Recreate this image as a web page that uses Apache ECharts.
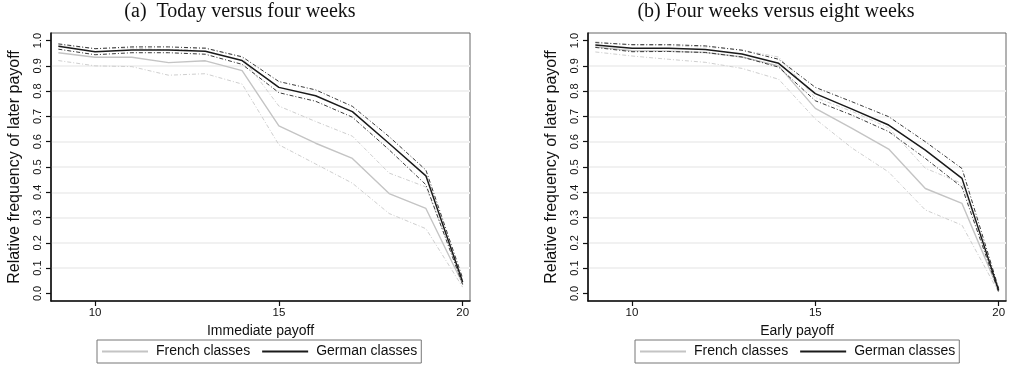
<!DOCTYPE html>
<html>
<head>
<meta charset="utf-8">
<script src="https://cdn.jsdelivr.net/npm/echarts@6/dist/echarts.min.js"></script>
<style>
html,body{margin:0;padding:0;background:#fff;}
#chart{width:1010px;height:367px;}
</style>
</head>
<body>
<div id="chart"></div>
<script>
// ---- data ----
const payoffs = [9, 10, 11, 12, 13, 14, 15, 16, 17, 18, 19, 20];
const xTicks = [10, 15, 20];
const yTicks = [0.0, 0.1, 0.2, 0.3, 0.4, 0.5, 0.6, 0.7, 0.8, 0.9, 1.0];

// (a) Today versus four weeks
const frenchA    = [0.952, 0.934, 0.934, 0.913, 0.920, 0.881, 0.663, 0.594, 0.534, 0.395, 0.336, 0.038];
const frenchA_lo = [0.921, 0.900, 0.897, 0.863, 0.869, 0.828, 0.588, 0.512, 0.436, 0.316, 0.256, 0.025];
const frenchA_hi = [0.983, 0.968, 0.971, 0.962, 0.970, 0.934, 0.741, 0.680, 0.622, 0.476, 0.421, 0.052];
const germanA    = [0.978, 0.956, 0.963, 0.963, 0.958, 0.921, 0.815, 0.782, 0.719, 0.593, 0.465, 0.045];
const germanA_hi = [0.987, 0.968, 0.975, 0.975, 0.970, 0.936, 0.838, 0.805, 0.740, 0.620, 0.488, 0.060];
const germanA_lo = [0.966, 0.944, 0.952, 0.952, 0.946, 0.906, 0.794, 0.760, 0.697, 0.568, 0.430, 0.035];

// (b) Four weeks versus eight weeks
const frenchB    = [0.975, 0.960, 0.958, 0.953, 0.935, 0.900, 0.732, 0.653, 0.571, 0.415, 0.356, 0.012];
const frenchB_lo = [0.955, 0.939, 0.926, 0.914, 0.890, 0.847, 0.690, 0.575, 0.480, 0.330, 0.270, 0.004];
const frenchB_hi = [0.995, 0.982, 0.980, 0.975, 0.962, 0.935, 0.775, 0.720, 0.655, 0.495, 0.435, 0.020];
const germanB    = [0.983, 0.970, 0.970, 0.965, 0.947, 0.910, 0.790, 0.729, 0.666, 0.567, 0.455, 0.012];
const germanB_hi = [0.992, 0.984, 0.984, 0.979, 0.962, 0.926, 0.815, 0.758, 0.699, 0.600, 0.494, 0.020];
const germanB_lo = [0.973, 0.956, 0.957, 0.953, 0.935, 0.895, 0.762, 0.705, 0.640, 0.534, 0.420, 0.005];

// ---- chart ----
const pts = v => payoffs.map((x, i) => [x, v[i]]);
const SANS = 'Liberation Sans, Arial, sans-serif';

function xAxisFor(idx, name) {
  return {
    type: 'value', gridIndex: idx, min: 8.8, max: 20.2,
    name: name, nameLocation: 'middle', nameGap: 19,
    nameTextStyle: { fontFamily: SANS, fontSize: 14, color: '#111' },
    axisLine: { show: true, onZero: false, lineStyle: { color: '#111', width: 1.6 } },
    axisTick: { show: true, inside: false, length: 5, customValues: xTicks, lineStyle: { color: '#111', width: 1.2 } },
    axisLabel: { customValues: xTicks, margin: 6, fontFamily: SANS, fontSize: 11.5, color: '#111' },
    splitLine: { show: false }
  };
}
function yAxisFor(idx) {
  return {
    type: 'value', gridIndex: idx, min: -0.03, max: 1.03, splitNumber: 10,
    name: 'Relative frequency of later payoff', nameLocation: 'middle', nameGap: 28,
    nameTextStyle: { fontFamily: SANS, fontSize: 16, color: '#111' },
    axisLine: { show: true, onZero: false, lineStyle: { color: '#111', width: 1.6 } },
    axisTick: { show: true, inside: false, length: 5, customValues: yTicks, lineStyle: { color: '#111', width: 1.2 } },
    axisLabel: { customValues: yTicks, rotate: 90, margin: 8, fontFamily: SANS, fontSize: 11, color: '#111',
                 formatter: v => Number(v).toFixed(1) },
    splitLine: { show: true, showMinLine: false, showMaxLine: false, lineStyle: { color: '#f1f1f1', width: 2 } }
  };
}
function lineSeries(name, data, idx, color, width, type, z) {
  return {
    name: name, type: 'line', xAxisIndex: idx, yAxisIndex: idx,
    data: pts(data), symbol: 'none', showSymbol: false, smooth: false,
    lineStyle: { color: color, width: width, type: type }, itemStyle: { color: color },
    emphasis: { disabled: true }, animation: false, z: z
  };
}
const dashdot = [4, 2, 1, 2];
const FR = '#c4c4c4', FRCI = '#cfcfcf', DE = '#1a1a1a', DECI = '#3a3a3a';

function panelSeries(idx, fr, frLo, frHi, de, deHi, deLo) {
  return [
    lineSeries('French upper ' + idx, frHi, idx, FRCI, 1, dashdot, 2),
    lineSeries('French lower ' + idx, frLo, idx, FRCI, 1, dashdot, 2),
    lineSeries('French classes', fr, idx, FR, 1.4, 'solid', 3),
    lineSeries('German upper ' + idx, deHi, idx, DECI, 1, dashdot, 4),
    lineSeries('German lower ' + idx, deLo, idx, DECI, 1, dashdot, 4),
    lineSeries('German classes', de, idx, DE, 1.5, 'solid', 5)
  ];
}

function legendFor(left) {
  return {
    left: left, top: 340, orient: 'horizontal',
    data: [
      { name: 'French classes', icon: 'rect', itemStyle: { color: FR } },
      { name: 'German classes', icon: 'rect', itemStyle: { color: DE } }
    ],
    itemWidth: 46, itemHeight: 2, itemGap: 12,
    padding: [3, 4, 3, 5],
    borderColor: '#777', borderWidth: 1, borderRadius: 0,
    textStyle: { fontFamily: SANS, fontSize: 14, color: '#111', lineHeight: 17, padding: [0, 0, 0, 3] },
    selectedMode: false
  };
}

const TITLE_STYLE = { fontFamily: 'Liberation Serif, Times New Roman, serif', fontSize: 20, fontWeight: 'normal', color: '#111' };
const option = {
  animation: false,
  backgroundColor: '#fff',
  title: [
    { text: '(a)  Today versus four weeks', left: 240, top: 2, textAlign: 'center', padding: 0, textStyle: TITLE_STYLE },
    { text: '(b) Four weeks versus eight weeks', left: 776, top: 2, textAlign: 'center', padding: 0, textStyle: TITLE_STYLE }
  ],
  grid: [
    { left: 51, top: 33, width: 419, height: 268, show: true, borderColor: '#666', borderWidth: 1, backgroundColor: 'transparent' },
    { left: 588, top: 33, width: 418, height: 268, show: true, borderColor: '#666', borderWidth: 1, backgroundColor: 'transparent' }
  ],
  xAxis: [xAxisFor(0, 'Immediate payoff'), xAxisFor(1, 'Early payoff')],
  yAxis: [yAxisFor(0), yAxisFor(1)],
  legend: [legendFor(97), legendFor(635)],
  series: [].concat(
    panelSeries(0, frenchA, frenchA_lo, frenchA_hi, germanA, germanA_hi, germanA_lo),
    panelSeries(1, frenchB, frenchB_lo, frenchB_hi, germanB, germanB_hi, germanB_lo)
  )
};

const chart = echarts.init(document.getElementById('chart'), null, { renderer: 'canvas' });
chart.setOption(option);
</script>
</body>
</html>
